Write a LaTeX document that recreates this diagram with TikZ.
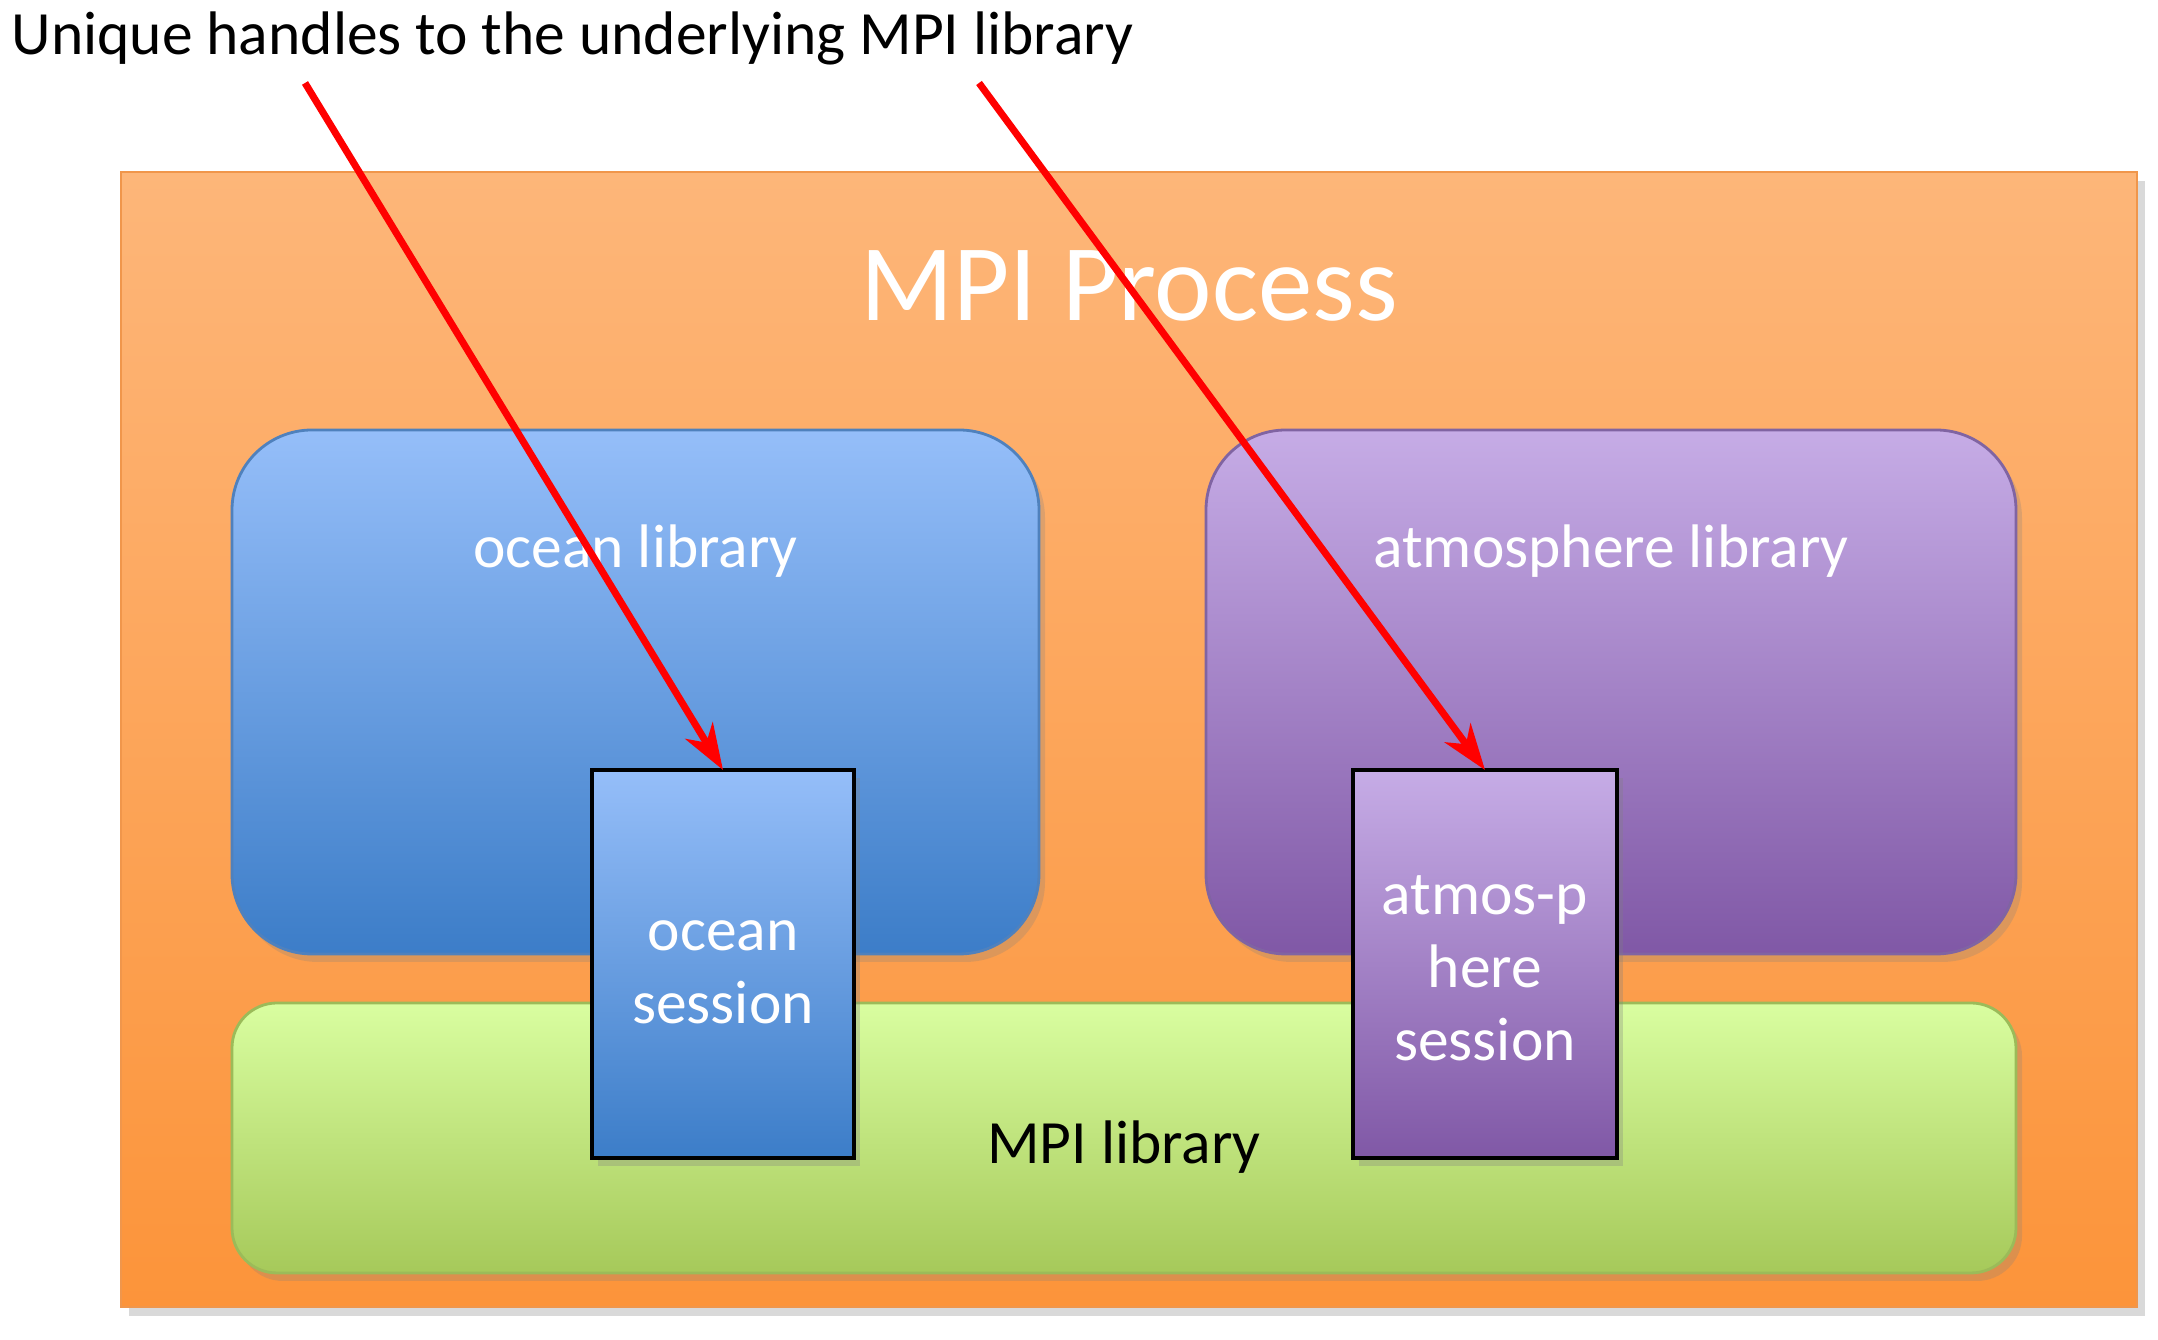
\documentclass[tikz,border=0pt]{standalone}
\usepackage{fontspec}
\setmainfont{Carlito}
\usepackage{tikz}
\usetikzlibrary{arrows.meta, positioning, calc, shadows, shadings}

\definecolor{procTop}{RGB}{253,182,121}
\definecolor{procBot}{RGB}{252,148,58}
\definecolor{procLine}{RGB}{240,150,75}
\definecolor{oceanTop}{RGB}{149,190,249}
\definecolor{oceanBot}{RGB}{60,125,200}
\definecolor{oceanLine}{RGB}{79,129,189}
\definecolor{atmosTop}{RGB}{198,172,230}
\definecolor{atmosBot}{RGB}{128,88,166}
\definecolor{atmosLine}{RGB}{128,100,162}
\definecolor{mpiTop}{RGB}{217,254,160}
\definecolor{mpiBot}{RGB}{166,201,90}
\definecolor{mpiLine}{RGB}{155,187,89}

\begin{document}
\begin{tikzpicture}[font=\fontsize{17.5}{21}\selectfont]

  \tikzset{
    libbox/.style={rectangle, rounded corners=8mm, draw=#1Line,
      top color=#1Top, bottom color=#1Bot, line width=0.8pt,
      inner sep=0pt, outer sep=0pt,
      drop shadow={opacity=0.25, shadow xshift=0.6mm, shadow yshift=-0.8mm}},
    sessionbox/.style={rectangle, draw=black, line width=1.2pt,
      top color=#1Top, bottom color=#1Bot,
      minimum width=2.62cm, minimum height=3.88cm,
      inner sep=0pt, outer sep=0pt,
      drop shadow={opacity=0.3, shadow xshift=0.6mm, shadow yshift=-0.8mm}},
    sesstext/.style={text=white, align=center, inner sep=0pt,
      font=\fontsize{17.5}{20.8}\selectfont},
    libtext/.style={text=white, anchor=base, inner sep=0pt},
    handlearrow/.style={-{Stealth[length=4.6mm, width=3.2mm, inset=1.4mm]},
      red, line width=2pt}
  }

  \useasboundingbox (0,0) rectangle (21.58,13.4);

  % process and libraries
  \node[rectangle, draw=procLine, top color=procTop, bottom color=procBot,
    minimum width=20.16cm, minimum height=11.35cm, inner sep=0pt,
    drop shadow={opacity=0.3, shadow xshift=0.8mm, shadow yshift=-0.9mm}]
    (proc) at (11.29, 6.005) {};
  \node[text=white, anchor=base, font=\fontsize{31}{36}\selectfont]
    (ptitle) at (11.29, 10.19) {MPI Process};

  \node[libbox=ocean, minimum width=8.07cm, minimum height=5.24cm]
    (olib) at (6.355, 6.48) {};
  \node[libbox=atmos, minimum width=8.10cm, minimum height=5.24cm]
    (alib) at (16.11, 6.48) {};
  \node[libtext] (olabel) at ($(olib.north)+(0,-1.38)$) {ocean library};
  \node[libtext] (alabel) at ($(alib.north)+(0,-1.38)$) {atmosphere library};

  \node[libbox=mpi, rounded corners=4.5mm, text height=0.63cm,
    text depth=0.12cm, minimum width=17.84cm, minimum height=2.70cm]
    (mpi) at (11.24, 2.02) {MPI library};

  % sessions
  \node[sessionbox=ocean] (osess) at (7.23, 3.76) {};
  \node[sessionbox=atmos, minimum width=2.64cm] (asess) at (14.85, 3.76) {};
  \node[sesstext] (otext) at ($(osess.center)+(0,-0.08)$) {ocean\\session};
  \node[sesstext] (atext) at ($(asess.center)+(0,-0.04)$)
    {atmos-p\\here\\session};

  % handles
  \node[anchor=base west, inner sep=0pt] (handles) at (0.11, 12.85)
    {Unique handles to the underlying MPI library};
  \coordinate (h1) at (3.05, 12.57);
  \coordinate (h2) at (9.79, 12.57);
  \draw[handlearrow] (h1) -- (osess.north);
  \draw[handlearrow] (h2) -- (asess.north);

\end{tikzpicture}
\end{document}
